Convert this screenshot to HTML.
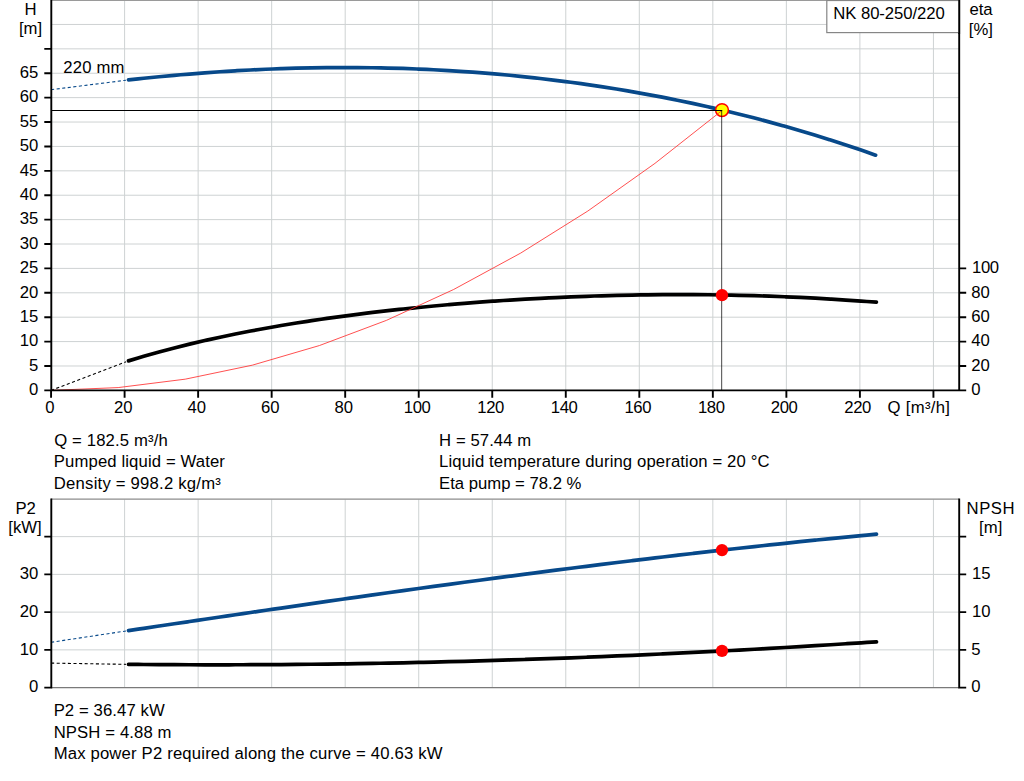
<!DOCTYPE html>
<html><head><meta charset="utf-8"><title>NK 80-250/220</title>
<style>html,body{margin:0;padding:0;background:#fff;overflow:hidden}svg{display:block}text{white-space:pre}</style>
</head><body>
<svg width="1024" height="781" viewBox="0 0 1024 781" font-family="'Liberation Sans', sans-serif" font-size="16.70" fill="#000">
<rect width="1024" height="781" fill="#fff"/>
<path d="M124.60 1V390.38M124.60 499.5V687.60M198.13 1V390.38M198.13 499.5V687.60M271.66 1V390.38M271.66 499.5V687.60M345.19 1V390.38M345.19 499.5V687.60M418.72 1V390.38M418.72 499.5V687.60M492.25 1V390.38M492.25 499.5V687.60M565.78 1V390.38M565.78 499.5V687.60M639.31 1V390.38M639.31 499.5V687.60M712.84 1V390.38M712.84 499.5V687.60M786.37 1V390.38M786.37 499.5V687.60M859.90 1V390.38M859.90 499.5V687.60M933.43 1V390.38M933.43 499.5V687.60M51.07 365.99H959.20M51.07 341.59H959.20M51.07 317.19H959.20M51.07 292.80H959.20M51.07 268.40H959.20M51.07 244.01H959.20M51.07 219.62H959.20M51.07 195.22H959.20M51.07 170.83H959.20M51.07 146.43H959.20M51.07 122.04H959.20M51.07 97.64H959.20M51.07 73.25H959.20M51.07 48.85H959.20M51.07 24.46H959.20M51.07 649.86H959.20M51.07 612.12H959.20M51.07 574.38H959.20M51.07 536.64H959.20" stroke="#ced2d3" stroke-width="1" fill="none"/>
<path d="M51.07 0.5H959.20" stroke="#9a9a9a" stroke-width="1"/>
<path d="M51.07 499.1H959.20" stroke="#8c8c8c" stroke-width="1.4"/>
<path d="M51.07 687.60H959.20" stroke="#7a7a7a" stroke-width="1.3"/>
<path d="M51.07 89.70L125.92 80.24" stroke="#07498a" stroke-width="1.1" stroke-dasharray="3.1 2.5" fill="none"/>
<path d="M128.50 79.91 C131.04 79.64 138.66 78.81 143.75 78.28 C148.83 77.75 153.91 77.25 158.99 76.76 C164.08 76.27 169.16 75.79 174.24 75.34 C179.32 74.89 184.41 74.45 189.49 74.04 C194.57 73.62 199.65 73.22 204.73 72.85 C209.82 72.47 214.90 72.11 219.98 71.77 C225.06 71.43 230.15 71.12 235.23 70.82 C240.31 70.52 245.39 70.24 250.48 69.98 C255.56 69.72 260.64 69.48 265.72 69.26 C270.80 69.04 275.89 68.84 280.97 68.67 C286.05 68.49 291.13 68.33 296.22 68.19 C301.30 68.06 306.38 67.94 311.46 67.85 C316.55 67.75 321.63 67.68 326.71 67.63 C331.79 67.57 336.87 67.54 341.96 67.53 C347.04 67.52 352.12 67.54 357.20 67.57 C362.29 67.60 367.37 67.66 372.45 67.74 C377.53 67.81 382.62 67.91 387.70 68.03 C392.78 68.16 397.86 68.30 402.94 68.46 C408.03 68.63 413.11 68.82 418.19 69.03 C423.27 69.24 428.36 69.47 433.44 69.73 C438.52 69.98 443.60 70.26 448.69 70.56 C453.77 70.86 458.85 71.18 463.93 71.53 C469.01 71.88 474.10 72.25 479.18 72.64 C484.26 73.03 489.34 73.45 494.43 73.89 C499.51 74.33 504.59 74.79 509.67 75.28 C514.76 75.76 519.84 76.27 524.92 76.81 C530.00 77.34 535.09 77.90 540.17 78.48 C545.25 79.06 550.33 79.67 555.41 80.30 C560.50 80.93 565.58 81.58 570.66 82.26 C575.74 82.94 580.83 83.64 585.91 84.37 C590.99 85.10 596.07 85.85 601.16 86.63 C606.24 87.41 611.32 88.21 616.40 89.04 C621.48 89.87 626.57 90.72 631.65 91.60 C636.73 92.48 641.81 93.38 646.90 94.32 C651.98 95.25 657.06 96.20 662.14 97.19 C667.23 98.17 672.31 99.18 677.39 100.22 C682.47 101.25 687.55 102.32 692.64 103.41 C697.72 104.50 702.80 105.61 707.88 106.76 C712.97 107.90 718.05 109.07 723.13 110.27 C728.21 111.48 733.30 112.70 738.38 113.96 C743.46 115.22 748.54 116.50 753.62 117.81 C758.71 119.13 763.79 120.47 768.87 121.84 C773.95 123.22 779.04 124.62 784.12 126.05 C789.20 127.48 794.28 128.94 799.37 130.43 C804.45 131.92 809.53 133.45 814.61 135.00 C819.69 136.55 824.78 138.14 829.86 139.76 C834.94 141.37 840.02 143.02 845.11 144.70 C850.19 146.38 855.27 148.10 860.35 149.84 C865.44 151.59 873.06 154.29 875.60 155.18" stroke="#07498a" stroke-width="3.7" fill="none" stroke-linecap="round" stroke-linejoin="round"/>
<path d="M51.07 390.38L126.07 361.79" stroke="#000" stroke-width="1.1" stroke-dasharray="3.1 2.5" fill="none"/>
<path d="M128.50 360.87 C131.04 360.11 138.68 357.78 143.76 356.30 C148.85 354.82 153.94 353.39 159.03 352.00 C164.11 350.61 169.20 349.26 174.29 347.96 C179.38 346.65 184.47 345.38 189.55 344.15 C194.64 342.92 199.73 341.73 204.82 340.57 C209.90 339.41 214.99 338.29 220.08 337.20 C225.17 336.11 230.26 335.05 235.34 334.02 C240.43 332.99 245.52 331.99 250.61 331.03 C255.69 330.06 260.78 329.12 265.87 328.20 C270.96 327.29 276.04 326.40 281.13 325.54 C286.22 324.68 291.31 323.84 296.40 323.03 C301.48 322.21 306.57 321.43 311.66 320.66 C316.75 319.89 321.83 319.15 326.92 318.42 C332.01 317.70 337.10 317.00 342.19 316.31 C347.27 315.63 352.36 314.97 357.45 314.33 C362.54 313.68 367.62 313.06 372.71 312.45 C377.80 311.85 382.89 311.26 387.98 310.69 C393.06 310.12 398.15 309.56 403.24 309.03 C408.33 308.49 413.41 307.97 418.50 307.47 C423.59 306.96 428.68 306.48 433.77 306.00 C438.85 305.53 443.94 305.08 449.03 304.64 C454.12 304.20 459.20 303.77 464.29 303.36 C469.38 302.95 474.47 302.55 479.56 302.17 C484.64 301.79 489.73 301.42 494.82 301.07 C499.91 300.72 504.99 300.38 510.08 300.06 C515.17 299.74 520.26 299.43 525.34 299.13 C530.43 298.84 535.52 298.56 540.61 298.29 C545.70 298.03 550.78 297.77 555.87 297.54 C560.96 297.30 566.05 297.08 571.13 296.87 C576.22 296.66 581.31 296.46 586.40 296.28 C591.49 296.10 596.57 295.94 601.66 295.78 C606.75 295.63 611.84 295.49 616.92 295.37 C622.01 295.25 627.10 295.14 632.19 295.05 C637.28 294.95 642.36 294.87 647.45 294.81 C652.54 294.75 657.63 294.70 662.71 294.66 C667.80 294.63 672.89 294.61 677.98 294.60 C683.07 294.60 688.15 294.61 693.24 294.64 C698.33 294.66 703.42 294.70 708.50 294.76 C713.59 294.82 718.68 294.89 723.77 294.98 C728.86 295.06 733.94 295.17 739.03 295.28 C744.12 295.40 749.21 295.54 754.29 295.68 C759.38 295.83 764.47 296.00 769.56 296.18 C774.64 296.36 779.73 296.56 784.82 296.77 C789.91 296.98 795.00 297.20 800.08 297.45 C805.17 297.69 810.26 297.95 815.35 298.22 C820.43 298.49 825.52 298.78 830.61 299.08 C835.70 299.39 840.79 299.71 845.87 300.04 C850.96 300.37 856.05 300.72 861.14 301.08 C866.22 301.44 873.86 302.02 876.40 302.21" stroke="#000" stroke-width="3.7" fill="none" stroke-linecap="round" stroke-linejoin="round"/>
<path d="M51.07 642.30L125.93 630.99" stroke="#07498a" stroke-width="1.1" stroke-dasharray="3.1 2.5" fill="none"/>
<path d="M128.50 630.60 C131.04 630.22 138.68 629.08 143.77 628.32 C148.85 627.56 153.94 626.80 159.03 626.04 C164.12 625.28 169.21 624.52 174.30 623.77 C179.38 623.01 184.47 622.25 189.56 621.50 C194.65 620.75 199.74 619.99 204.83 619.24 C209.91 618.49 215.00 617.74 220.09 616.99 C225.18 616.24 230.27 615.49 235.36 614.74 C240.45 613.99 245.53 613.25 250.62 612.50 C255.71 611.76 260.80 611.01 265.89 610.27 C270.98 609.53 276.06 608.79 281.15 608.05 C286.24 607.31 291.33 606.57 296.42 605.84 C301.51 605.10 306.60 604.37 311.68 603.63 C316.77 602.90 321.86 602.17 326.95 601.44 C332.04 600.71 337.13 599.99 342.21 599.26 C347.30 598.54 352.39 597.81 357.48 597.09 C362.57 596.37 367.66 595.65 372.74 594.94 C377.83 594.22 382.92 593.50 388.01 592.79 C393.10 592.08 398.19 591.37 403.28 590.66 C408.36 589.95 413.45 589.25 418.54 588.54 C423.63 587.84 428.72 587.14 433.81 586.44 C438.89 585.74 443.98 585.05 449.07 584.35 C454.16 583.66 459.25 582.97 464.34 582.28 C469.43 581.59 474.51 580.91 479.60 580.22 C484.69 579.54 489.78 578.86 494.87 578.18 C499.96 577.51 505.04 576.83 510.13 576.16 C515.22 575.49 520.31 574.82 525.40 574.16 C530.49 573.49 535.57 572.83 540.66 572.17 C545.75 571.51 550.84 570.85 555.93 570.20 C561.02 569.55 566.11 568.90 571.19 568.25 C576.28 567.61 581.37 566.96 586.46 566.32 C591.55 565.68 596.64 565.05 601.72 564.41 C606.81 563.78 611.90 563.15 616.99 562.53 C622.08 561.90 627.17 561.28 632.26 560.66 C637.34 560.04 642.43 559.43 647.52 558.82 C652.61 558.21 657.70 557.60 662.79 556.99 C667.87 556.39 672.96 555.79 678.05 555.20 C683.14 554.60 688.23 554.01 693.32 553.42 C698.40 552.83 703.49 552.25 708.58 551.67 C713.67 551.09 718.76 550.52 723.85 549.95 C728.94 549.37 734.02 548.81 739.11 548.25 C744.20 547.68 749.29 547.12 754.38 546.57 C759.47 546.02 764.55 545.47 769.64 544.92 C774.73 544.38 779.82 543.84 784.91 543.30 C790.00 542.77 795.09 542.24 800.17 541.71 C805.26 541.18 810.35 540.66 815.44 540.14 C820.53 539.63 825.62 539.11 830.70 538.61 C835.79 538.10 840.88 537.60 845.97 537.10 C851.06 536.60 856.15 536.11 861.23 535.62 C866.32 535.13 873.96 534.42 876.50 534.17" stroke="#07498a" stroke-width="3.7" fill="none" stroke-linecap="round" stroke-linejoin="round"/>
<path d="M51.07 663.10L125.90 664.34" stroke="#000" stroke-width="1.1" stroke-dasharray="3.1 2.5" fill="none"/>
<path d="M128.50 664.38 C131.04 664.40 138.68 664.48 143.77 664.52 C148.85 664.56 153.94 664.59 159.03 664.63 C164.12 664.66 169.21 664.69 174.30 664.71 C179.38 664.73 184.47 664.75 189.56 664.76 C194.65 664.78 199.74 664.79 204.83 664.79 C209.91 664.80 215.00 664.80 220.09 664.79 C225.18 664.79 230.27 664.78 235.36 664.77 C240.45 664.76 245.53 664.74 250.62 664.72 C255.71 664.70 260.80 664.67 265.89 664.64 C270.98 664.61 276.06 664.58 281.15 664.54 C286.24 664.50 291.33 664.46 296.42 664.41 C301.51 664.36 306.60 664.31 311.68 664.25 C316.77 664.20 321.86 664.14 326.95 664.07 C332.04 664.01 337.13 663.94 342.21 663.87 C347.30 663.79 352.39 663.72 357.48 663.63 C362.57 663.55 367.66 663.47 372.74 663.38 C377.83 663.29 382.92 663.19 388.01 663.10 C393.10 663.00 398.19 662.90 403.28 662.79 C408.36 662.68 413.45 662.57 418.54 662.46 C423.63 662.34 428.72 662.23 433.81 662.10 C438.89 661.98 443.98 661.85 449.07 661.72 C454.16 661.59 459.25 661.46 464.34 661.32 C469.43 661.18 474.51 661.04 479.60 660.89 C484.69 660.74 489.78 660.59 494.87 660.44 C499.96 660.28 505.04 660.12 510.13 659.96 C515.22 659.80 520.31 659.63 525.40 659.46 C530.49 659.29 535.57 659.12 540.66 658.94 C545.75 658.76 550.84 658.58 555.93 658.39 C561.02 658.20 566.11 658.01 571.19 657.82 C576.28 657.63 581.37 657.43 586.46 657.23 C591.55 657.03 596.64 656.82 601.72 656.61 C606.81 656.40 611.90 656.19 616.99 655.97 C622.08 655.76 627.17 655.54 632.26 655.31 C637.34 655.09 642.43 654.86 647.52 654.63 C652.61 654.40 657.70 654.16 662.79 653.92 C667.87 653.68 672.96 653.44 678.05 653.19 C683.14 652.95 688.23 652.70 693.32 652.44 C698.40 652.19 703.49 651.93 708.58 651.67 C713.67 651.41 718.76 651.15 723.85 650.88 C728.94 650.61 734.02 650.34 739.11 650.06 C744.20 649.79 749.29 649.51 754.38 649.23 C759.47 648.95 764.55 648.66 769.64 648.37 C774.73 648.08 779.82 647.79 784.91 647.49 C790.00 647.19 795.09 646.90 800.17 646.59 C805.26 646.29 810.35 645.98 815.44 645.67 C820.53 645.36 825.62 645.05 830.70 644.73 C835.79 644.41 840.88 644.09 845.97 643.77 C851.06 643.45 856.15 643.12 861.23 642.79 C866.32 642.46 873.96 641.95 876.50 641.79" stroke="#000" stroke-width="3.7" fill="none" stroke-linecap="round" stroke-linejoin="round"/>
<circle cx="722.00" cy="110.10" r="6.4" fill="#ffff00" stroke="#ff0000" stroke-width="1.5"/>
<path d="M51.07 390.38 L118.17 387.58 L185.26 379.17 L252.36 365.16 L319.45 345.54 L386.55 320.32 L453.65 289.49 L520.74 253.06 L587.84 211.02 L654.94 163.38 L722.00 110.50" stroke="#ff3030" stroke-width="0.85" fill="none"/>
<path d="M51.07 110.55H722.20" stroke="#000" stroke-width="1.1"/>
<path d="M721.60 110.55V390.38" stroke="#000" stroke-opacity="0.6" stroke-width="1.2"/>
<path d="M51.30 0V391.18M959.20 0V391.18M44.30 390.38H966.20M51.30 498.4V688.40M959.20 498.4V688.40M44.3 365.99H51.07M44.3 341.59H51.07M44.3 317.19H51.07M44.3 292.80H51.07M44.3 268.40H51.07M44.3 244.01H51.07M44.3 219.62H51.07M44.3 195.22H51.07M44.3 170.83H51.07M44.3 146.43H51.07M44.3 122.04H51.07M44.3 97.64H51.07M44.3 73.25H51.07M44.3 48.85H51.07M959.20 365.99H966.20M959.20 341.59H966.20M959.20 317.19H966.20M959.20 292.80H966.20M959.20 268.40H966.20M51.07 390.38V397.68M124.60 390.38V397.68M198.13 390.38V397.68M271.66 390.38V397.68M345.19 390.38V397.68M418.72 390.38V397.68M492.25 390.38V397.68M565.78 390.38V397.68M639.31 390.38V397.68M712.84 390.38V397.68M786.37 390.38V397.68M859.90 390.38V397.68M933.43 390.38V397.68M44.3 687.60H51.07M959.20 687.60H966.20M44.3 649.86H51.07M959.20 649.86H966.20M44.3 612.12H51.07M959.20 612.12H966.20M44.3 574.38H51.07M959.20 574.38H966.20M44.3 536.64H51.07M959.20 536.64H966.20" stroke="#000" stroke-width="1.9" fill="none"/>
<circle cx="722" cy="295.2" r="6.15" fill="#ff0000"/>
<circle cx="722" cy="550.1" r="6.15" fill="#ff0000"/>
<circle cx="722" cy="650.9" r="6.15" fill="#ff0000"/>
<rect x="826.8" y="0.5" width="132.40" height="32.1" fill="#fff" stroke="#868686" stroke-width="1.2"/>
<path d="M959.20 0V34" stroke="#000" stroke-width="1.8"/>
<text x="38.30" y="395.00" text-anchor="end">0</text>
<text x="38.30" y="371.00" text-anchor="end">5</text>
<text x="38.30" y="346.00" text-anchor="end">10</text>
<text x="38.30" y="322.00" text-anchor="end">15</text>
<text x="38.30" y="298.00" text-anchor="end">20</text>
<text x="38.30" y="273.00" text-anchor="end">25</text>
<text x="38.30" y="249.00" text-anchor="end">30</text>
<text x="38.30" y="224.00" text-anchor="end">35</text>
<text x="38.30" y="200.00" text-anchor="end">40</text>
<text x="38.30" y="176.00" text-anchor="end">45</text>
<text x="38.30" y="151.00" text-anchor="end">50</text>
<text x="38.30" y="127.00" text-anchor="end">55</text>
<text x="38.30" y="102.00" text-anchor="end">60</text>
<text x="38.30" y="78.00" text-anchor="end">65</text>
<text x="971.30" y="395.00">0</text>
<text x="971.30" y="371.00">20</text>
<text x="971.30" y="346.00">40</text>
<text x="971.30" y="322.00">60</text>
<text x="971.30" y="298.00">80</text>
<text x="972.10" y="273.00" letter-spacing="-0.4">100</text>
<text x="49.97" y="413.00" text-anchor="middle">0</text>
<text x="123.20" y="413.00" text-anchor="middle">20</text>
<text x="196.73" y="413.00" text-anchor="middle">40</text>
<text x="270.26" y="413.00" text-anchor="middle">60</text>
<text x="343.79" y="413.00" text-anchor="middle">80</text>
<text x="417.12" y="413.00" text-anchor="middle" letter-spacing="-0.4">100</text>
<text x="490.65" y="413.00" text-anchor="middle" letter-spacing="-0.4">120</text>
<text x="564.18" y="413.00" text-anchor="middle" letter-spacing="-0.4">140</text>
<text x="637.71" y="413.00" text-anchor="middle" letter-spacing="-0.4">160</text>
<text x="711.24" y="413.00" text-anchor="middle" letter-spacing="-0.4">180</text>
<text x="784.17" y="413.00" text-anchor="middle" letter-spacing="-0.4">200</text>
<text x="857.70" y="413.00" text-anchor="middle" letter-spacing="-0.4">220</text>
<text x="887.61" y="413.00" textLength="62.28">Q [m³/h]</text>
<text x="30.60" y="14.80" text-anchor="middle">H</text>
<text x="30.50" y="34.30" text-anchor="middle">[m]</text>
<text x="981.00" y="14.70" text-anchor="middle">eta</text>
<text x="980.90" y="35.20" text-anchor="middle">[%]</text>
<text x="63.16" y="72.70" textLength="61.34">220 mm</text>
<text x="833.33" y="18.90" textLength="111.42">NK 80-250/220</text>
<text x="38.30" y="692.00" text-anchor="end">0</text>
<text x="38.30" y="655.00" text-anchor="end">10</text>
<text x="38.30" y="617.00" text-anchor="end">20</text>
<text x="38.30" y="579.00" text-anchor="end">30</text>
<text x="971.30" y="692.00">0</text>
<text x="971.30" y="655.00">5</text>
<text x="972.00" y="617.00">10</text>
<text x="972.00" y="579.00">15</text>
<text x="25.70" y="514.00" text-anchor="middle">P2</text>
<text x="25.00" y="533.00" text-anchor="middle">[kW]</text>
<text x="966.53" y="514.00" textLength="48.03">NPSH</text>
<text x="990.70" y="533.10" text-anchor="middle">[m]</text>
<text x="54.21" y="445.90" textLength="113.58">Q = 182.5 m³/h</text>
<text x="53.83" y="466.90" textLength="171.05">Pumped liquid = Water</text>
<text x="53.83" y="488.90" textLength="167.00">Density = 998.2 kg/m³</text>
<text x="439.03" y="445.90" textLength="92.17">H = 57.44 m</text>
<text x="439.03" y="466.90" textLength="330.51">Liquid temperature during operation = 20 °C</text>
<text x="439.03" y="488.90" textLength="142.37">Eta pump = 78.2 %</text>
<text x="53.63" y="715.90" textLength="111.13">P2 = 36.47 kW</text>
<text x="53.63" y="737.90" textLength="117.87">NPSH = 4.88 m</text>
<text x="53.63" y="758.90" textLength="388.83">Max power P2 required along the curve = 40.63 kW</text>
</svg>
</body></html>
